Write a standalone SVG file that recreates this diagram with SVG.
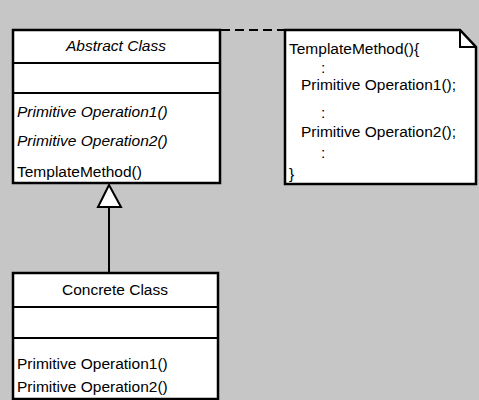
<svg xmlns="http://www.w3.org/2000/svg" width="479" height="400" viewBox="0 0 479 400">
<style>
.box{fill:#fff;stroke:#000;stroke-width:2.5}
.div{stroke:#000;stroke-width:2}
text{font-family:"Liberation Sans",Arial,sans-serif;font-size:15.5px;fill:#000}
.it{font-style:italic}
.mid{text-anchor:middle}
.conn{stroke:#000;stroke-width:2;fill:none}
</style>
<rect x="0" y="0" width="479" height="400" fill="#c6c6c6"/>
<g id="connectors">
<line class="conn" x1="221" y1="30" x2="285" y2="30" stroke-dasharray="9,5"/>
<line class="conn" x1="109" y1="207" x2="109" y2="273"/>
<polygon points="109,185 98,207 121,207" fill="#fff" stroke="#000" stroke-width="2"/>
</g>
<g id="abstract-class">
<rect class="box" x="13" y="30" width="207" height="153"/>
<line class="div" x1="13" y1="63" x2="220" y2="63"/>
<line class="div" x1="13" y1="93" x2="220" y2="93"/>
<text class="it mid" x="116" y="51">Abstract Class</text>
<text class="it" x="17" y="117">Primitive Operation1()</text>
<text class="it" x="17" y="146">Primitive Operation2()</text>
<text x="17" y="177">TemplateMethod()</text>
</g>
<g id="note">
<path class="box" d="M285,30 H460 L476,47 V184 H285 Z"/>
<path d="M460,30 V47 H476" fill="none" stroke="#000" stroke-width="2"/>
<text x="289" y="54">TemplateMethod(){</text>
<text x="321" y="73">:</text>
<text x="301" y="90">Primitive Operation1();</text>
<text x="321" y="118">:</text>
<text x="301" y="137">Primitive Operation2();</text>
<text x="321" y="158">:</text>
<text x="289" y="179">}</text>
</g>
<g id="concrete-class">
<rect class="box" x="13" y="273" width="205" height="126"/>
<line class="div" x1="13" y1="307" x2="218" y2="307"/>
<line class="div" x1="13" y1="338" x2="218" y2="338"/>
<text class="mid" x="115" y="295">Concrete Class</text>
<text x="17" y="369">Primitive Operation1()</text>
<text x="17" y="392">Primitive Operation2()</text>
</g>
</svg>
